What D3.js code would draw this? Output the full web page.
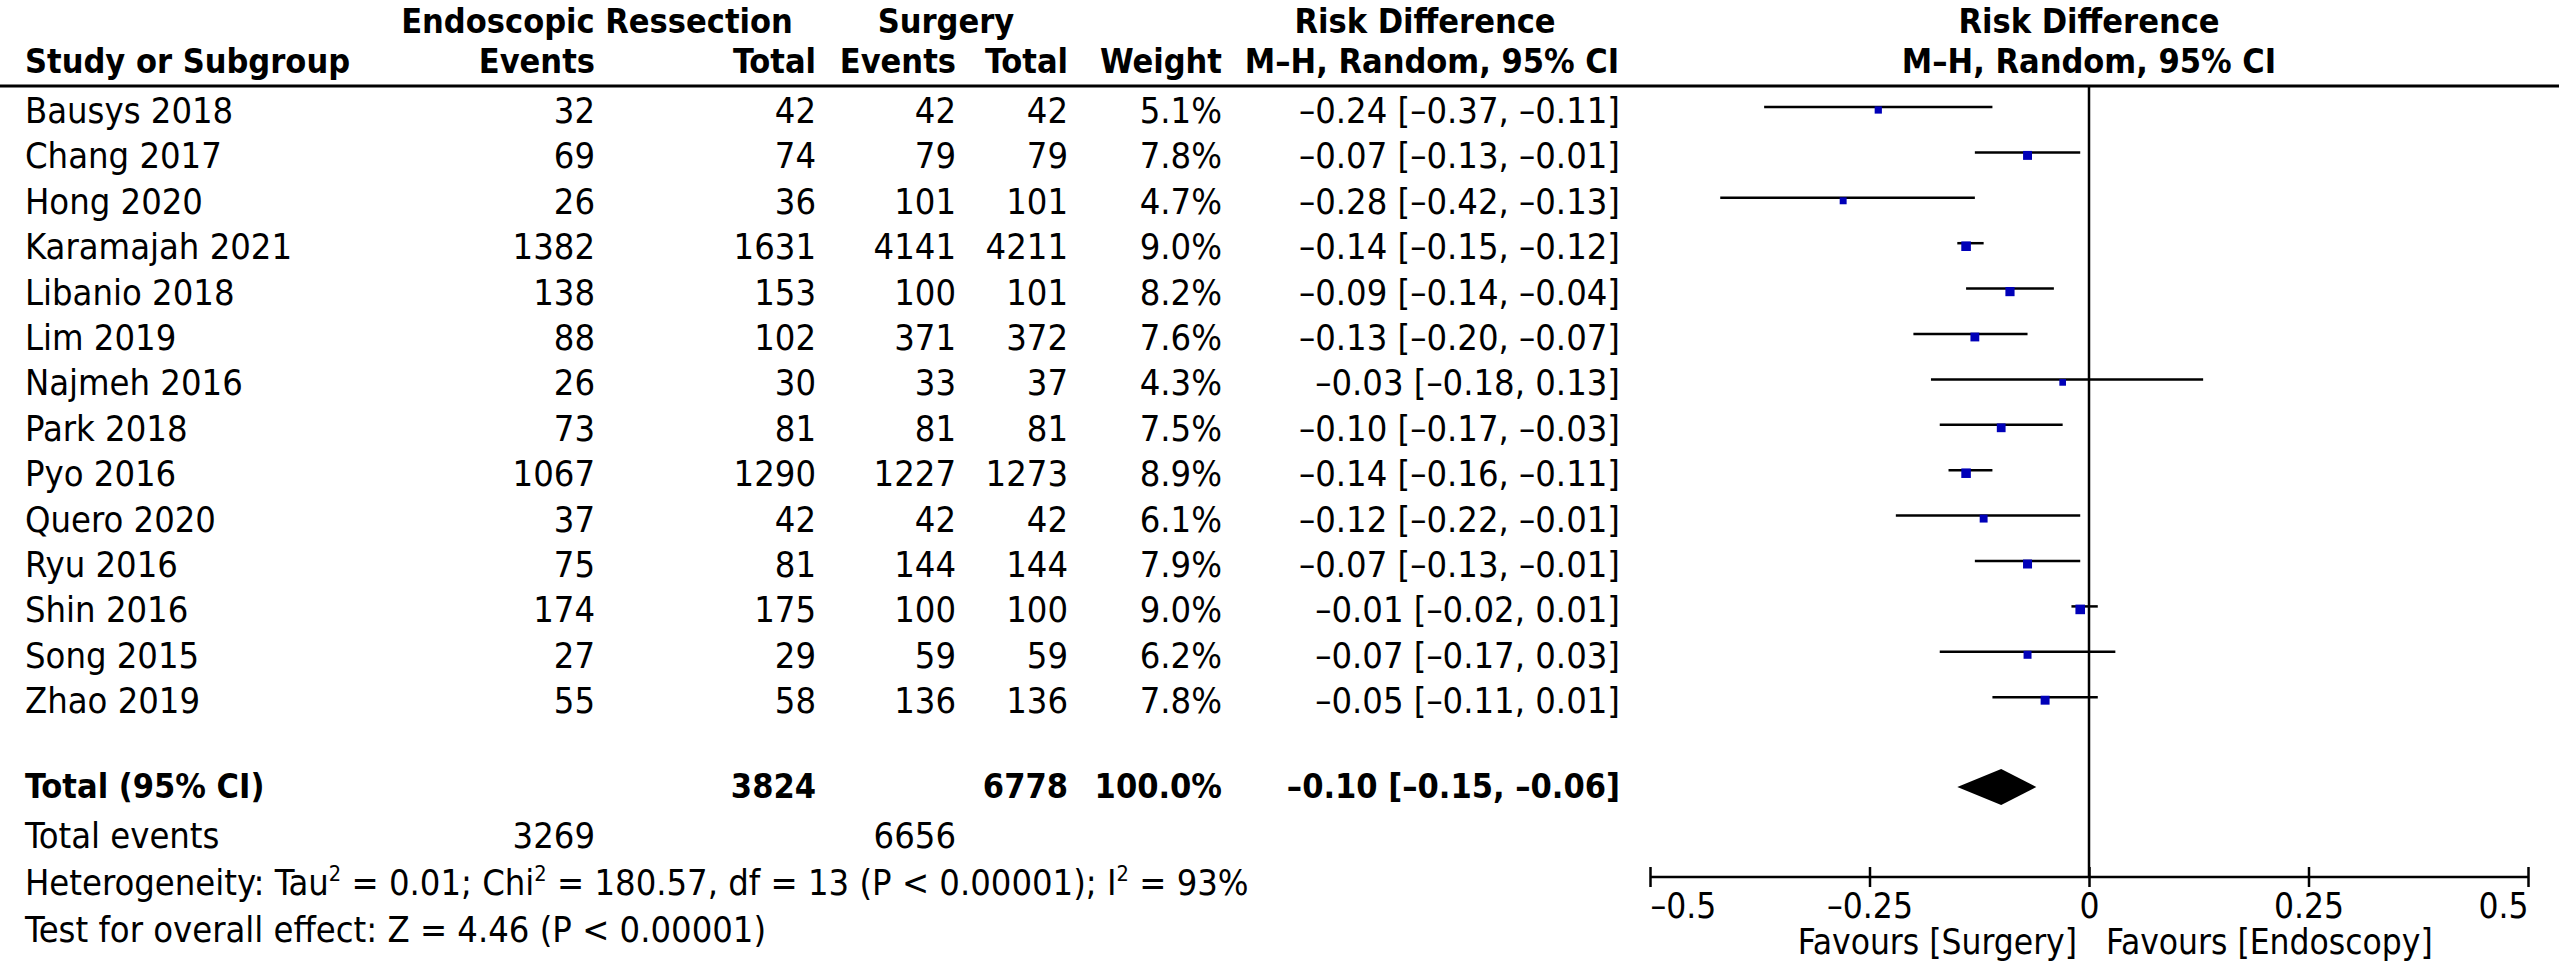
<!DOCTYPE html>
<html>
<head>
<meta charset="utf-8">
<script src="https://cdn.jsdelivr.net/npm/d3@7"></script>
<style>
  html, body { margin: 0; padding: 0; background: #fff; }
  svg { display: block; font-family: "DejaVu Sans Condensed", "DejaVu Sans", sans-serif; }
</style>
</head>
<body>
<svg id="forest"></svg>
<script>
/* Data */
const studies = ["Bausys 2018", "Chang 2017", "Hong 2020", "Karamajah 2021", "Libanio 2018",
  "Lim 2019", "Najmeh 2016", "Park 2018", "Pyo 2016", "Quero 2020", "Ryu 2016",
  "Shin 2016", "Song 2015", "Zhao 2019"];
const erEvents = [32, 69, 26, 1382, 138, 88, 26, 73, 1067, 37, 75, 174, 27, 55];
const erTotal = [42, 74, 36, 1631, 153, 102, 30, 81, 1290, 42, 81, 175, 29, 58];
const sEvents = [42, 79, 101, 4141, 100, 371, 33, 81, 1227, 42, 144, 100, 59, 136];
const sTotal = [42, 79, 101, 4211, 101, 372, 37, 81, 1273, 42, 144, 100, 59, 136];
const weights = [5.1, 7.8, 4.7, 9.0, 8.2, 7.6, 4.3, 7.5, 8.9, 6.1, 7.9, 9.0, 6.2, 7.8];
const rd = [-0.24, -0.07, -0.28, -0.14, -0.09, -0.13, -0.03, -0.10, -0.14, -0.12, -0.07, -0.01, -0.07, -0.05];
const ciLow = [-0.37, -0.13, -0.42, -0.15, -0.14, -0.20, -0.18, -0.17, -0.16, -0.22, -0.13, -0.02, -0.17, -0.11];
const ciHigh = [-0.11, -0.01, -0.13, -0.12, -0.04, -0.07, 0.13, -0.03, -0.11, -0.01, -0.01, 0.01, 0.03, 0.01];

const pooled = { rd: -0.10, low: -0.15, high: -0.06 };
const totals = { erTotal: 3824, sTotal: 6778, weight: "100.0%", erEvents: 3269, sEvents: 6656 };
const axisTicks = [-0.5, -0.25, 0, 0.25, 0.5];

/* Size */
const width = 2559, height = 966;
const fsBold = 34, fs = 36, fsAxis = 35;

const svg = d3.select("#forest").attr("width", width).attr("height", height);
svg.append("rect").attr("width", width).attr("height", height).attr("fill", "#fff");

/* Column positions (right edges unless noted) */
const col = { study: 25, erEv: 595, erTot: 816, sEv: 956, sTot: 1068, weight: 1222, ci: 1620 };

/* Scales */
const xScale = d3.scaleLinear().domain([-0.5, 0.5]).range([1650, 2528]);
const yScale = d3.scalePoint().domain(studies).range([123, 123 + 13 * 45.4]);

const locale = d3.formatLocale({ decimal: ".", thousands: ",", grouping: [3], currency: ["", ""], minus: "\u2013" });
const fmt = locale.format(".2f");
const ciText = (e, l, h) => `${fmt(e)} [${fmt(l)}, ${fmt(h)}]`;

const text = (x, y, str, anchor, bold, size) =>
  svg.append("text")
    .attr("x", x).attr("y", y)
    .attr("text-anchor", anchor || "start")
    .attr("font-weight", bold ? "bold" : "normal")
    .attr("font-size", size || (bold ? fsBold : fs))
    .attr("fill", "#000")
    .text(str);

/* Headers */
const y1 = 33;
text(597, y1, "Endoscopic Ressection", "middle", true);
text(946, y1, "Surgery", "middle", true);
text(1425, y1, "Risk Difference", "middle", true);
text(xScale(0), y1, "Risk Difference", "middle", true);

const y2 = 73;
text(col.study, y2, "Study or Subgroup", "start", true);
text(col.erEv, y2, "Events", "end", true);
text(col.erTot, y2, "Total", "end", true);
text(col.sEv, y2, "Events", "end", true);
text(col.sTot, y2, "Total", "end", true);
text(col.weight, y2, "Weight", "end", true);
text(1432, y2, "M\u2013H, Random, 95% CI", "middle", true);
text(xScale(0), y2, "M\u2013H, Random, 95% CI", "middle", true);

svg.append("line")
  .attr("x1", 0).attr("x2", width)
  .attr("y1", 86).attr("y2", 86)
  .attr("stroke", "#000").attr("stroke-width", 3);

/* Study rows */
studies.forEach((s, i) => {
  const y = yScale(s);
  text(col.study, y, s);
  text(col.erEv, y, erEvents[i], "end");
  text(col.erTot, y, erTotal[i], "end");
  text(col.sEv, y, sEvents[i], "end");
  text(col.sTot, y, sTotal[i], "end");
  text(col.weight, y, weights[i].toFixed(1) + "%", "end");
  text(col.ci, y, ciText(rd[i], ciLow[i], ciHigh[i]), "end");
});

/* Total rows */
const yTot = 798;
text(col.study, yTot, "Total (95% CI)", "start", true);
text(col.erTot, yTot, totals.erTotal, "end", true);
text(col.sTot, yTot, totals.sTotal, "end", true);
text(col.weight, yTot, totals.weight, "end", true);
text(col.ci, yTot, ciText(pooled.rd, pooled.low, pooled.high), "end", true);

text(col.study, 848, "Total events");
text(col.erEv, 848, totals.erEvents, "end");
text(col.sEv, 848, totals.sEvents, "end");

const het = svg.append("text")
  .attr("x", col.study).attr("y", 895)
  .attr("font-size", fs).attr("fill", "#000");
const sup = (t) => het.append("tspan").attr("font-size", fs * 0.6).attr("dy", -14).text(t);
const norm = (t) => het.append("tspan").attr("font-size", fs).attr("dy", 14).text(t);
het.append("tspan").text("Heterogeneity: Tau");
sup("2"); norm(" = 0.01; Chi");
sup("2"); norm(" = 180.57, df = 13 (P < 0.00001); I");
sup("2"); norm(" = 93%");

text(col.study, 942, "Test for overall effect: Z = 4.46 (P < 0.00001)");

/* Plot */
const plot = svg.append("g");
const axisY = 877;

plot.append("line")
  .attr("x1", xScale(0)).attr("x2", xScale(0))
  .attr("y1", 86).attr("y2", axisY)
  .attr("stroke", "#000").attr("stroke-width", 2.5);

const data = studies.map((s, i) => ({ s, rd: rd[i], lo: ciLow[i], hi: ciHigh[i], w: weights[i] }));

plot.selectAll(".ci")
  .data(data)
  .enter()
  .append("line")
  .attr("x1", (d) => xScale(d.lo))
  .attr("x2", (d) => xScale(d.hi))
  .attr("y1", (d) => yScale(d.s) - 16)
  .attr("y2", (d) => yScale(d.s) - 16)
  .attr("stroke", "#000")
  .attr("stroke-width", 2.5);

plot.selectAll(".box")
  .data(data)
  .enter()
  .append("rect")
  .attr("x", (d) => xScale(d.rd) - 1.6 * Math.sqrt(d.w))
  .attr("y", (d) => yScale(d.s) - 13 - 1.6 * Math.sqrt(d.w))
  .attr("width", (d) => 3.2 * Math.sqrt(d.w))
  .attr("height", (d) => 3.2 * Math.sqrt(d.w))
  .attr("fill", "#0000b8");

/* Pooled diamond */
const dy = 787;
plot.append("polygon")
  .attr("points", [
    [xScale(pooled.low), dy],
    [xScale(pooled.rd), dy - 18],
    [xScale(pooled.high), dy],
    [xScale(pooled.rd), dy + 18]
  ].map((p) => p.join(",")).join(" "))
  .attr("fill", "#000");

/* Axis */
const xAxis = d3.axisBottom(xScale)
  .tickValues(axisTicks)
  .tickSize(10)
  .tickFormat(locale.format("~g"));

const ax = plot.append("g")
  .attr("transform", `translate(0,${axisY})`)
  .call(xAxis);
ax.select(".domain").attr("d", `M${xScale(-0.5)},0H${xScale(0.5)}`)
  .attr("stroke", "#000").attr("stroke-width", 2.5);
ax.selectAll(".tick line").attr("y1", -10).attr("y2", 10)
  .attr("stroke", "#000").attr("stroke-width", 2.5);
ax.selectAll(".tick text")
  .attr("y", 41).attr("dy", 0)
  .attr("font-size", fsAxis)
  .attr("font-family", "DejaVu Sans Condensed, DejaVu Sans, sans-serif")
  .attr("fill", "#000")
  .attr("text-anchor", (d, i) => (i === 0 ? "start" : i === axisTicks.length - 1 ? "end" : "middle"));

text(xScale(0) - 12, 954, "Favours [Surgery]", "end", false, fsAxis);
text(xScale(0) + 17, 954, "Favours [Endoscopy]", "start", false, fsAxis);
</script>
</body>
</html>
